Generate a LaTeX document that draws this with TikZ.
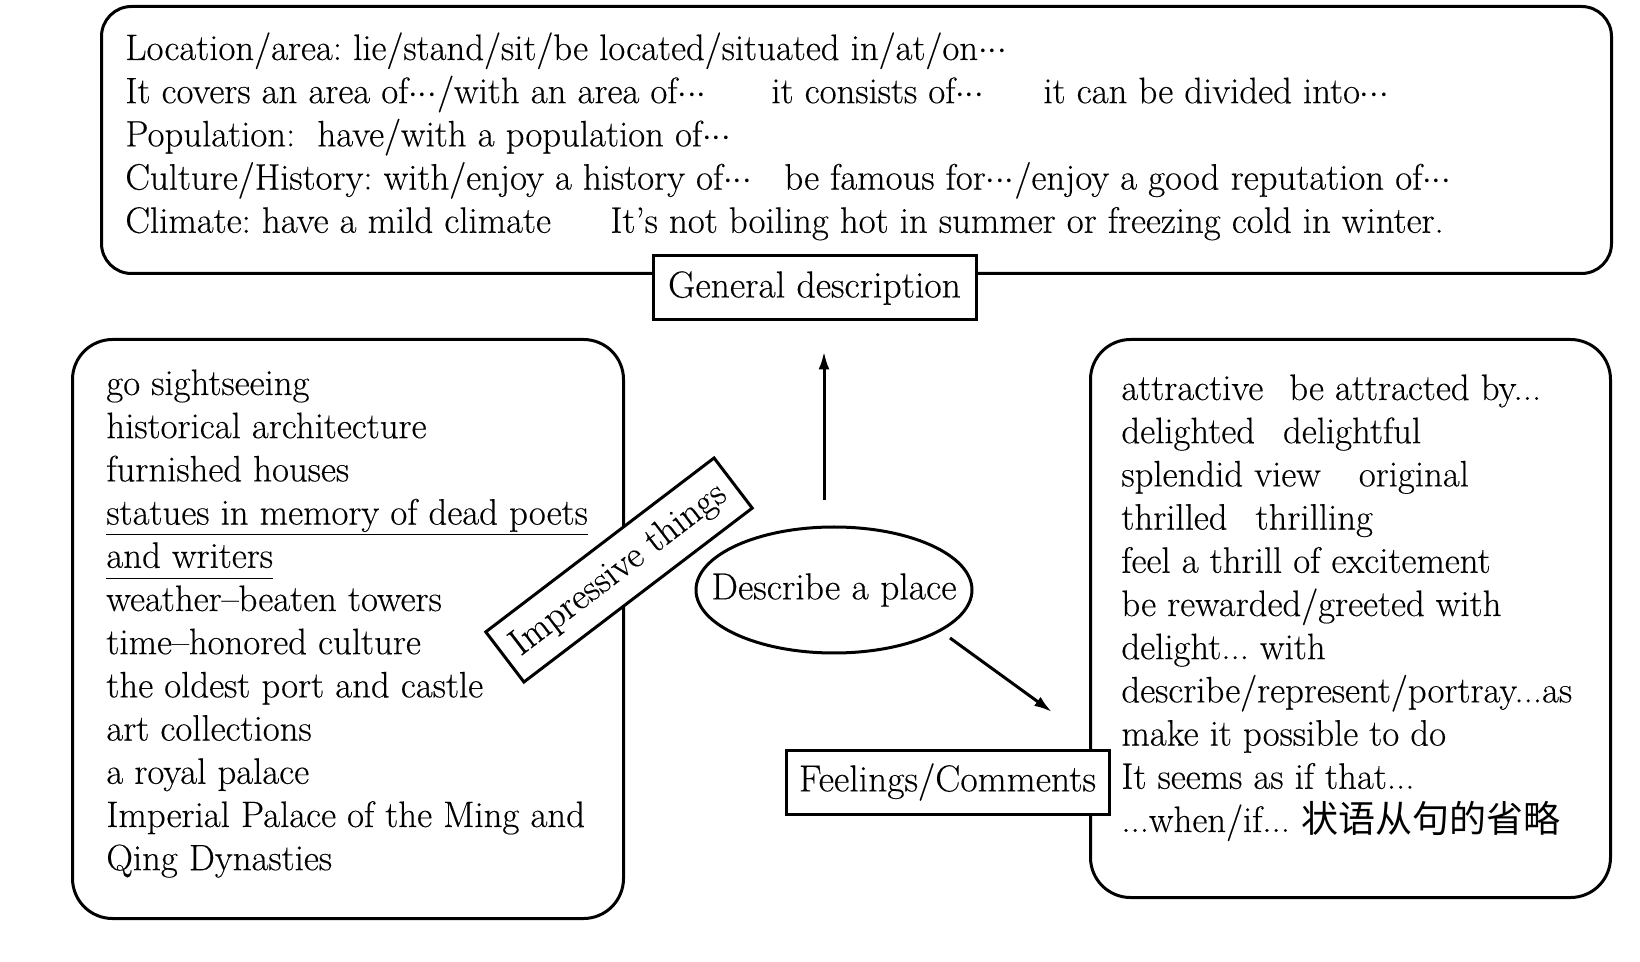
\documentclass[tikz,border=0pt]{standalone}
\usepackage{fontspec}
\setmainfont{Latin Modern Roman}[FakeBold=0.3]
\newfontfamily\cjk{Noto Sans CJK SC}
\usetikzlibrary{shapes.geometric,arrows.meta}
\newcommand{\ulx}[1]{\underline{\vphantom{y}#1}}
\newcommand{\dts}{${\cdot}{\cdot}{\cdot}$}
\newcommand{\tdots}{...}
\begin{document}
\frenchspacing
\begin{tikzpicture}[x=0.5pt,y=-0.5pt,
  every node/.style={font=\fontsize{18.4}{20}\selectfont},
  lab/.style={font=\fontsize{18.8}{20}\selectfont},
  frame/.style={draw,line width=1.5pt,anchor=north west,inner sep=0},
  labelbox/.style={draw,line width=1.5pt,fill=white,inner sep=0,minimum width=161.5pt,minimum height=32pt,lab},
  txt/.style={anchor=base west,inner sep=0},
  arr/.style={line width=1.5pt,-{Latex[length=9pt,width=5.5pt]}}]
\useasboundingbox (0,0) rectangle (1640,962);

% frames
\node[frame,rounded corners=15pt,minimum width=755pt,minimum height=133.5pt] (top) at (100,5) {};
\node[frame,rounded corners=20pt,minimum width=275.5pt,minimum height=289.5pt] (left) at (71,338) {};
\node[frame,rounded corners=20pt,minimum width=260pt,minimum height=279pt] (right) at (1089,338) {};

% top box text
\node[txt] (t1) at (125,60) {Location/area: lie/stand/sit/be located/situated in/at/on\dts};
\node[txt] (t2a) at (125,103.2) {It covers an area of\dts/with an area of\dts};
\node[txt] (t2b) at (771,103.2) {it consists of\dts};
\node[txt] (t2c) at (1043,103.2) {it can be divided into\dts};
\node[txt] (t3) at (125,146.4) {Population:\ \ have/with a population of\dts};
\node[txt] (t4a) at (125,189.6) {Culture/History: with/enjoy a history of\dts};
\node[txt] (t4b) at (784,189.6) {be famous for\dts/enjoy a good reputation of\dts};
\node[txt] (t5a) at (125,232.8) {Climate: have a mild climate};
\node[txt] (t5b) at (610,232.8) {It’s not boiling hot in summer or freezing cold in winter.};

% left box text
\foreach \t [count=\i from 0] in {go sightseeing,historical architecture,furnished houses,\ulx{statues in memory of dead poets},\ulx{and writers},weather--beaten towers,time--honored culture,the oldest port and castle,art collections,a royal palace,Imperial Palace of the Ming and,Qing Dynasties}
  \node[txt] (l\i) at (106,395+43.2*\i) {\t};

% right box text
\foreach \t [count=\i from 0] in {attractive\hspace{13pt}be attracted by\tdots,delighted\hspace{14pt}delightful,splendid view\hspace{19pt}original,thrilled\hspace{14pt}thrilling,feel a thrill of excitement,be rewarded/greeted with,delight\tdots\ with,describe/represent/portray\tdots as,make it possible to do,It seems as if that\tdots,\tdots when/if\tdots\ {\cjk\fontsize{18.5}{20}\selectfont 状语从句的省略}}
  \node[txt] (r\i) at (1121,400+43.2*\i) {\t};

% label boxes
\node[labelbox] (gd) at (814.5,288) {General description};
\node[labelbox] (fc) at (947.5,782) {Feelings/Comments};
\node[labelbox,minimum width=143.5pt,minimum height=31.5pt,rotate=37.3] (imp) at (619,570) {Impressive things};
\node[draw,ellipse,line width=1.5pt,inner sep=0,minimum width=138pt,minimum height=63pt,lab] (ell) at (834,590) {\makebox[0pt]{Describe a place}};

% arrows
\coordinate (ax) at (824,0);
\draw[arr,shorten <=12.5pt,shorten >=15pt] (ell.north -| ax) -- (gd.south -| ax);
\coordinate (d1) at (950,638);
\coordinate (d2) at (1052,712);
\draw[arr] (d1) -- (d2);
\end{tikzpicture}
\end{document}
